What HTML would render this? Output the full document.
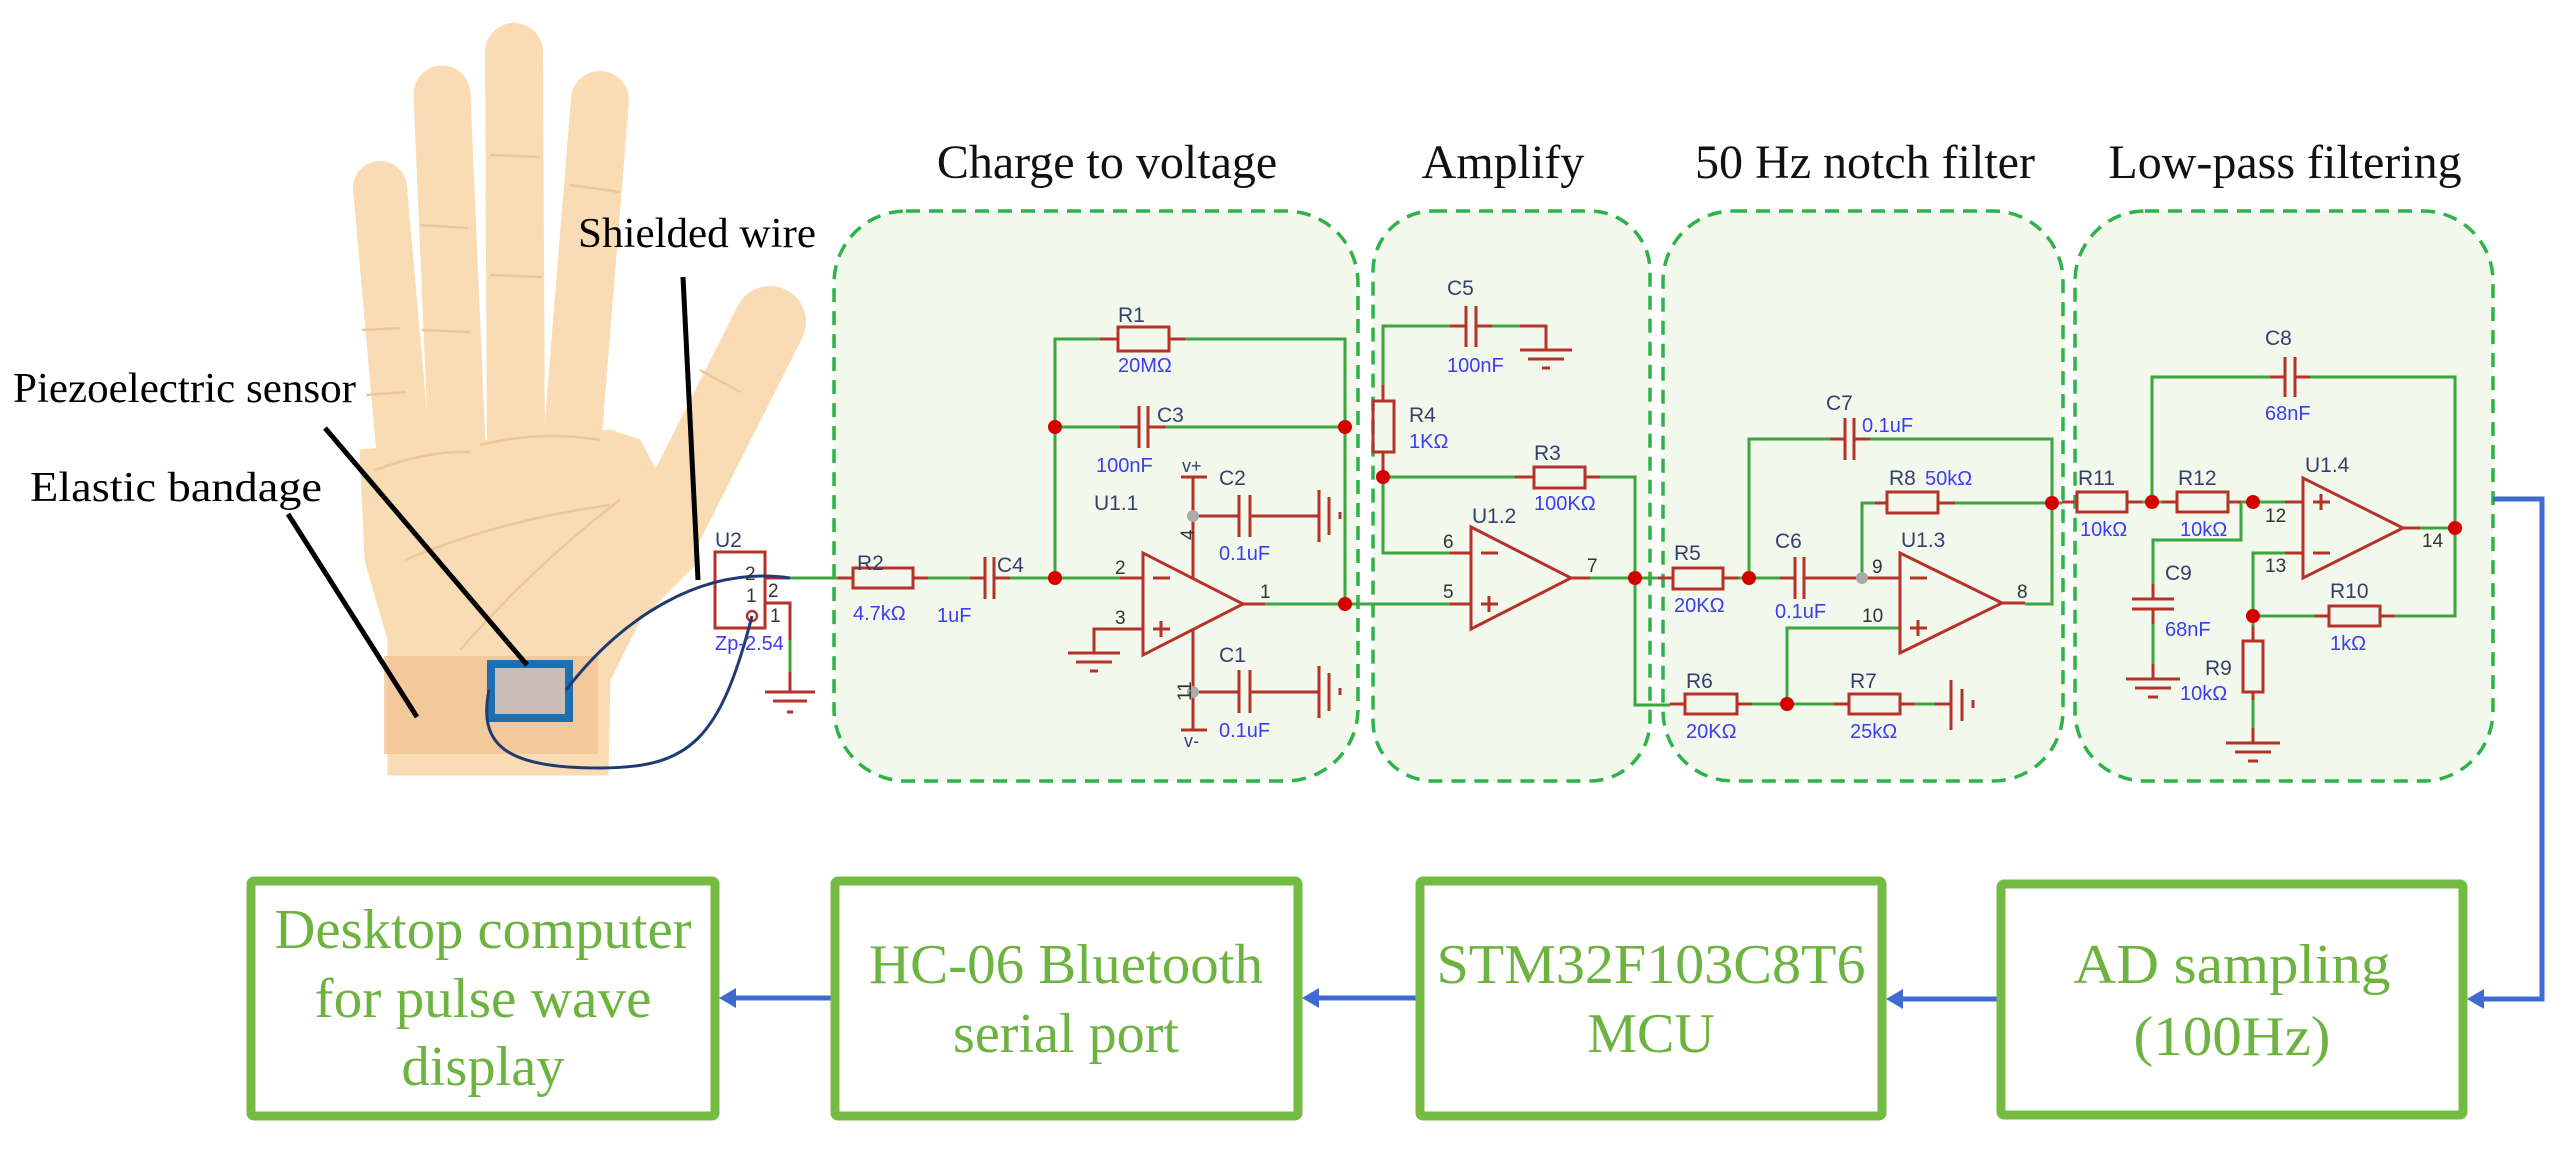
<!DOCTYPE html>
<html><head><meta charset="utf-8"><style>html,body{margin:0;padding:0;background:#fff}svg{display:block}</style></head>
<body>
<svg width="2572" height="1149" viewBox="0 0 2572 1149" xmlns="http://www.w3.org/2000/svg">
<rect width="2572" height="1149" fill="#fff"/>
<!-- HAND -->
<g fill="#F9DCB4" stroke="#F9DCB4">
<line x1="380" y1="188" x2="405" y2="470" stroke-width="54" stroke-linecap="round"/>
<line x1="442" y1="94" x2="458" y2="470" stroke-width="57" stroke-linecap="round"/>
<line x1="514" y1="52" x2="516" y2="462" stroke-width="58" stroke-linecap="round"/>
<line x1="600" y1="100" x2="572" y2="445" stroke-width="58" stroke-linecap="round"/>
<line x1="770" y1="322" x2="660" y2="540" stroke-width="72" stroke-linecap="round"/>
<polygon stroke-width="1" points="360,450 610,430 640,440 660,478 700,560 640,620 610,680 608,775 388,775 388,640 365,560"/>
</g>
<g fill="none" stroke="#EBC79D" stroke-width="2.5">
<path d="M375 470 Q430 450 470 452"/><path d="M480 445 Q540 430 600 440"/>
<path d="M405 560 Q500 520 610 505"/><path d="M460 650 Q540 560 620 500"/>
<line x1="362" y1="330" x2="400" y2="328"/><line x1="366" y1="395" x2="406" y2="392"/>
<line x1="420" y1="225" x2="468" y2="228"/><line x1="422" y1="330" x2="470" y2="332"/>
<line x1="490" y1="155" x2="540" y2="157"/><line x1="490" y1="275" x2="542" y2="277"/>
<line x1="570" y1="185" x2="620" y2="192"/><line x1="700" y1="370" x2="740" y2="392"/>
</g>
<rect x="384" y="656" width="214" height="98" fill="#F0C291" opacity="0.75"/>
<rect x="491" y="664" width="78" height="54" fill="#C9BDB5" stroke="#1D6FB0" stroke-width="8"/>
<g stroke="#000" stroke-width="5">
<line x1="683" y1="277" x2="698" y2="580"/>
<line x1="325" y1="428" x2="527" y2="665"/>
<line x1="288" y1="514" x2="417" y2="717"/>
</g>
<g font-family="Liberation Serif, serif" font-size="42" fill="#000">
<text x="578" y="247" textLength="238" lengthAdjust="spacingAndGlyphs">Shielded wire</text>
<text x="13" y="402" textLength="343" lengthAdjust="spacingAndGlyphs">Piezoelectric sensor</text>
<text x="30" y="501" textLength="292" lengthAdjust="spacingAndGlyphs">Elastic bandage</text>
</g>
<g font-family="Liberation Serif, serif" font-size="48" fill="#111" text-anchor="middle">
<text x="1107" y="178">Charge to voltage</text>
<text x="1503" y="178">Amplify</text>
<text x="1865" y="178">50 Hz notch filter</text>
<text x="2285" y="178">Low-pass filtering</text>
</g>
<g fill="#F2F8EC" stroke="#2DB34A" stroke-width="3.5" stroke-dasharray="14 9">
<rect x="834" y="211" width="524" height="570" rx="72"/>
<rect x="1373" y="211" width="277" height="570" rx="60"/>
<rect x="1663" y="211" width="400" height="570" rx="70"/>
<rect x="2075" y="211" width="418" height="570" rx="70"/>
</g>

<g fill="none" stroke="#B5322A" stroke-width="3">
<rect x="715" y="552" width="50" height="76"/>
<line x1="765" y1="578" x2="790" y2="578"/>
<polyline points="765,603 790,603 790,640"/>
<line x1="790" y1="672" x2="790" y2="692"/>
<line x1="765" y1="692" x2="815" y2="692"/><line x1="773" y1="701" x2="807" y2="701"/><line x1="787" y1="712" x2="793" y2="712"/>
<circle cx="752" cy="616" r="5" stroke-width="2.5"/>
</g>
<line x1="790" y1="640" x2="790" y2="672" stroke="#3DA53D" stroke-width="3"/>

<g fill="none" stroke="#3DA53D" stroke-width="3">
<line x1="790" y1="578" x2="838" y2="578"/>
<line x1="928" y1="578" x2="970" y2="578"/><line x1="1010" y1="578" x2="1120" y2="578"/>
<polyline points="1055,578 1055,339 1100,339"/><polyline points="1185,339 1345,339 1345,604"/>
<line x1="1055" y1="427" x2="1120" y2="427"/><line x1="1165" y1="427" x2="1345" y2="427"/>
<line x1="1265" y1="604" x2="1450" y2="604"/>
<polyline points="1383,385 1383,326 1450,326"/><line x1="1492" y1="326" x2="1520" y2="326"/>
<polyline points="1383,477 1383,553 1450,553"/>
<line x1="1383" y1="477" x2="1515" y2="477"/><polyline points="1600,477 1635,477 1635,705 1670,705"/>
<line x1="1590" y1="578" x2="1658" y2="578"/>
<line x1="1738" y1="578" x2="1780" y2="578"/>
<polyline points="1749,578 1749,439 1830,439"/><polyline points="1870,439 2052,439 2052,604 2025,604"/>
<polyline points="1862,578 1862,503 1875,503"/><line x1="1955" y1="503" x2="2062" y2="503"/>
<polyline points="1900,628 1787,628 1787,704"/>
<line x1="1752" y1="704" x2="1834" y2="704"/>
<line x1="1915" y1="704" x2="1935" y2="704"/>
<line x1="2142" y1="502" x2="2162" y2="502"/>
<polyline points="2152,502 2152,377 2270,377"/><polyline points="2310,377 2455,377 2455,616 2395,616"/>
<polyline points="2241,502 2241,540 2153,540 2153,584"/><line x1="2153" y1="624" x2="2153" y2="664"/>
<line x1="2241" y1="502" x2="2285" y2="502"/>
<polyline points="2285,553 2253,553 2253,626"/>
<line x1="2253" y1="616" x2="2315" y2="616"/>
<line x1="2253" y1="700" x2="2253" y2="728"/>
<line x1="2420" y1="528" x2="2455" y2="528"/>
</g>

<g fill="none" stroke="#B5322A" stroke-width="3">
<line x1="838" y1="578" x2="853" y2="578"/><rect x="853" y="568" width="60" height="20"/><line x1="913" y1="578" x2="928" y2="578"/>
<line x1="970" y1="578" x2="985" y2="578"/><line x1="985" y1="557" x2="985" y2="599"/><line x1="994" y1="557" x2="994" y2="599"/><line x1="994" y1="578" x2="1010" y2="578"/>
<line x1="1120" y1="578" x2="1143" y2="578"/>
<line x1="1100" y1="339" x2="1118" y2="339"/><rect x="1118" y="327" width="51" height="24"/><line x1="1169" y1="339" x2="1185" y2="339"/>
<line x1="1120" y1="427" x2="1139" y2="427"/><line x1="1139" y1="406" x2="1139" y2="448"/><line x1="1148" y1="406" x2="1148" y2="448"/><line x1="1148" y1="427" x2="1165" y2="427"/>
<polygon points="1143,553 1143,655 1243,604"/>
<line x1="1153" y1="578" x2="1170" y2="578"/><line x1="1153" y1="629" x2="1170" y2="629"/><line x1="1161" y1="621" x2="1161" y2="637"/>
<polyline points="1143,629 1094,629 1094,653"/>
<line x1="1068" y1="653" x2="1120" y2="653"/><line x1="1076" y1="662" x2="1112" y2="662"/><line x1="1090" y1="671" x2="1098" y2="671"/>
<line x1="1243" y1="604" x2="1265" y2="604"/>
<line x1="1193" y1="477" x2="1193" y2="579"/><line x1="1181" y1="477" x2="1207" y2="477"/>
<line x1="1193" y1="629" x2="1193" y2="730"/><line x1="1181" y1="730" x2="1207" y2="730"/>
<line x1="1193" y1="516" x2="1239" y2="516"/><line x1="1239" y1="495" x2="1239" y2="537"/><line x1="1250" y1="495" x2="1250" y2="537"/><line x1="1250" y1="516" x2="1319" y2="516"/>
<line x1="1319" y1="490" x2="1319" y2="542"/><line x1="1329" y1="497" x2="1329" y2="535"/><line x1="1340" y1="512" x2="1340" y2="519"/>
<line x1="1193" y1="692" x2="1239" y2="692"/><line x1="1239" y1="670" x2="1239" y2="713"/><line x1="1250" y1="670" x2="1250" y2="713"/><line x1="1250" y1="692" x2="1319" y2="692"/>
<line x1="1319" y1="666" x2="1319" y2="718"/><line x1="1329" y1="673" x2="1329" y2="711"/><line x1="1340" y1="688" x2="1340" y2="695"/>
<line x1="1450" y1="326" x2="1466" y2="326"/><line x1="1466" y1="306" x2="1466" y2="347"/><line x1="1476" y1="306" x2="1476" y2="347"/><line x1="1476" y1="326" x2="1492" y2="326"/>
<polyline points="1520,326 1546,326 1546,350"/>
<line x1="1520" y1="350" x2="1572" y2="350"/><line x1="1528" y1="359" x2="1564" y2="359"/><line x1="1542" y1="368" x2="1550" y2="368"/>
<line x1="1383" y1="385" x2="1383" y2="401"/><rect x="1373" y="401" width="21" height="51"/><line x1="1383" y1="452" x2="1383" y2="477"/>
<line x1="1515" y1="477" x2="1534" y2="477"/><rect x="1534" y="467" width="51" height="21"/><line x1="1585" y1="477" x2="1600" y2="477"/>
<polygon points="1471,527 1471,629 1571,578"/>
<line x1="1450" y1="553" x2="1471" y2="553"/><line x1="1450" y1="604" x2="1471" y2="604"/>
<line x1="1481" y1="553" x2="1498" y2="553"/><line x1="1481" y1="604" x2="1498" y2="604"/><line x1="1489" y1="596" x2="1489" y2="612"/>
<line x1="1571" y1="578" x2="1590" y2="578"/>
<line x1="1658" y1="578" x2="1673" y2="578"/><rect x="1673" y="568" width="50" height="21"/><line x1="1723" y1="578" x2="1738" y2="578"/>
<line x1="1780" y1="578" x2="1795" y2="578"/><line x1="1795" y1="557" x2="1795" y2="599"/><line x1="1804" y1="557" x2="1804" y2="599"/><line x1="1804" y1="578" x2="1900" y2="578"/>
<line x1="1830" y1="439" x2="1845" y2="439"/><line x1="1845" y1="418" x2="1845" y2="460"/><line x1="1854" y1="418" x2="1854" y2="460"/><line x1="1854" y1="439" x2="1870" y2="439"/>
<line x1="1875" y1="503" x2="1887" y2="503"/><rect x="1887" y="492" width="51" height="21"/><line x1="1938" y1="503" x2="1955" y2="503"/>
<polygon points="1900,553 1900,653 2002,603"/>
<line x1="1910" y1="578" x2="1927" y2="578"/><line x1="1910" y1="628" x2="1927" y2="628"/><line x1="1918" y1="620" x2="1918" y2="636"/>
<line x1="2002" y1="603" x2="2025" y2="603"/>
<line x1="1670" y1="704" x2="1685" y2="704"/><rect x="1685" y="694" width="52" height="20"/><line x1="1737" y1="704" x2="1752" y2="704"/>
<line x1="1834" y1="704" x2="1849" y2="704"/><rect x="1849" y="694" width="51" height="20"/><line x1="1900" y1="704" x2="1915" y2="704"/>
<line x1="1935" y1="704" x2="1951" y2="704"/>
<line x1="1951" y1="680" x2="1951" y2="730"/><line x1="1962" y1="689" x2="1962" y2="721"/><line x1="1973" y1="700" x2="1973" y2="708"/>
<line x1="2062" y1="502" x2="2077" y2="502"/><rect x="2077" y="492" width="50" height="20"/><line x1="2127" y1="502" x2="2142" y2="502"/>
<line x1="2162" y1="502" x2="2177" y2="502"/><rect x="2177" y="492" width="51" height="20"/><line x1="2228" y1="502" x2="2241" y2="502"/>
<line x1="2285" y1="502" x2="2303" y2="502"/>
<line x1="2270" y1="377" x2="2285" y2="377"/><line x1="2285" y1="357" x2="2285" y2="397"/><line x1="2295" y1="357" x2="2295" y2="397"/><line x1="2295" y1="377" x2="2310" y2="377"/>
<line x1="2153" y1="584" x2="2153" y2="599"/><line x1="2132" y1="599" x2="2174" y2="599"/><line x1="2132" y1="609" x2="2174" y2="609"/><line x1="2153" y1="609" x2="2153" y2="624"/>
<line x1="2153" y1="664" x2="2153" y2="679"/>
<line x1="2126" y1="679" x2="2180" y2="679"/><line x1="2135" y1="688" x2="2171" y2="688"/><line x1="2148" y1="697" x2="2158" y2="697"/>
<polygon points="2303,478 2303,578 2403,528"/>
<line x1="2313" y1="502" x2="2330" y2="502"/><line x1="2321" y1="494" x2="2321" y2="510"/><line x1="2313" y1="553" x2="2330" y2="553"/>
<line x1="2285" y1="553" x2="2303" y2="553"/>
<line x1="2403" y1="528" x2="2420" y2="528"/>
<line x1="2315" y1="616" x2="2329" y2="616"/><rect x="2329" y="606" width="51" height="20"/><line x1="2380" y1="616" x2="2395" y2="616"/>
<line x1="2253" y1="626" x2="2253" y2="641"/><rect x="2243" y="641" width="20" height="51"/><line x1="2253" y1="692" x2="2253" y2="700"/>
<line x1="2253" y1="728" x2="2253" y2="743"/>
<line x1="2226" y1="743" x2="2280" y2="743"/><line x1="2235" y1="752" x2="2271" y2="752"/><line x1="2248" y1="761" x2="2258" y2="761"/>
</g>

<g fill="#D40000">
<circle cx="1055" cy="578" r="7"/><circle cx="1055" cy="427" r="7"/><circle cx="1345" cy="427" r="7"/><circle cx="1345" cy="604" r="7"/>
<circle cx="1383" cy="477" r="7"/><circle cx="1635" cy="578" r="7"/><circle cx="1749" cy="578" r="7"/><circle cx="2052" cy="503" r="7"/>
<circle cx="1787" cy="704" r="7"/><circle cx="2152" cy="502" r="7"/><circle cx="2253" cy="502" r="7"/><circle cx="2455" cy="528" r="7"/><circle cx="2253" cy="616" r="7"/>
</g>
<g fill="#AAAAAA"><circle cx="1193" cy="516" r="6"/><circle cx="1193" cy="692" r="6"/><circle cx="1862" cy="578" r="6"/></g>

<g fill="none" stroke="#1F3B73" stroke-width="3">
<path d="M566 690 C620 620 700 565 790 578"/>
<path d="M489 690 C478 745 505 768 600 768 C690 768 720 740 752 616"/>
</g>

<g font-family="Liberation Sans, sans-serif" font-size="21" fill="#34406A">
<text x="715" y="547">U2</text>
<text x="857" y="570">R2</text><text x="997" y="572">C4</text>
<text x="1118" y="322">R1</text><text x="1157" y="422">C3</text>
<text x="1094" y="510">U1.1</text><text x="1219" y="485">C2</text><text x="1219" y="662">C1</text>
<text x="1182" y="472" font-size="18">v+</text><text x="1184" y="747" font-size="18">v-</text>
<text x="1447" y="295">C5</text><text x="1409" y="422">R4</text><text x="1534" y="460">R3</text><text x="1472" y="523">U1.2</text>
<text x="1674" y="560">R5</text><text x="1775" y="548">C6</text><text x="1826" y="410">C7</text><text x="1889" y="485">R8</text><text x="1901" y="547">U1.3</text>
<text x="1686" y="688">R6</text><text x="1850" y="688">R7</text>
<text x="2078" y="485">R11</text><text x="2178" y="485">R12</text><text x="2265" y="345">C8</text><text x="2305" y="472">U1.4</text>
<text x="2165" y="580">C9</text><text x="2330" y="598">R10</text><text x="2205" y="675">R9</text>
</g>
<g font-family="Liberation Sans, sans-serif" font-size="20" fill="#3C3CF0">
<text x="715" y="650">Zp-2.54</text>
<text x="853" y="620">4.7kΩ</text><text x="937" y="622">1uF</text>
<text x="1118" y="372">20MΩ</text><text x="1096" y="472">100nF</text>
<text x="1219" y="560">0.1uF</text><text x="1219" y="737">0.1uF</text>
<text x="1447" y="372">100nF</text><text x="1409" y="448">1KΩ</text><text x="1534" y="510">100KΩ</text>
<text x="1674" y="612">20KΩ</text><text x="1775" y="618">0.1uF</text><text x="1862" y="432">0.1uF</text><text x="1925" y="485">50kΩ</text>
<text x="1686" y="738">20KΩ</text><text x="1850" y="738">25kΩ</text>
<text x="2080" y="536">10kΩ</text><text x="2180" y="536">10kΩ</text><text x="2265" y="420">68nF</text>
<text x="2165" y="636">68nF</text><text x="2330" y="650">1kΩ</text><text x="2180" y="700">10kΩ</text>
</g>
<g font-family="Liberation Sans, sans-serif" font-size="19" fill="#333">
<text x="745" y="580">2</text><text x="746" y="602">1</text><text x="768" y="597">2</text><text x="770" y="622">1</text>
<text x="1115" y="574">2</text><text x="1115" y="624">3</text><text x="1260" y="598">1</text>
<text x="1186" y="548" transform="rotate(-90 1186 540)">4</text><text x="1180" y="700" transform="rotate(-90 1186 695)">11</text>
<text x="1443" y="548">6</text><text x="1443" y="598">5</text><text x="1587" y="572">7</text>
<text x="1872" y="573">9</text><text x="1862" y="622">10</text><text x="2017" y="598">8</text>
<text x="2265" y="522">12</text><text x="2265" y="572">13</text><text x="2422" y="547">14</text>
</g>

<g fill="none" stroke="#3F6BD0" stroke-width="5">
<polyline points="2493,499 2542,499 2542,999 2480,999"/>
<line x1="1997" y1="999" x2="1899" y2="999"/>
<line x1="1416" y1="998" x2="1315" y2="998"/>
<line x1="831" y1="998" x2="732" y2="998"/>
</g>
<g fill="#3F6BD0">
<polygon points="2467,999 2484,989 2484,1009"/>
<polygon points="1886,999 1903,989 1903,1009"/>
<polygon points="1302,998 1319,988 1319,1008"/>
<polygon points="719,998 736,988 736,1008"/>
</g>

<g fill="#fff" stroke="#74BB44" stroke-width="9">
<rect x="251" y="881" width="464" height="235" rx="3"/>
<rect x="835" y="881" width="463" height="235" rx="3"/>
<rect x="1420" y="881" width="462" height="235" rx="3"/>
<rect x="2001" y="884" width="462" height="231" rx="3"/>
</g>
<g font-family="Liberation Serif, serif" font-size="56" fill="#6DB33F" text-anchor="middle">
<text x="483" y="948" textLength="417" lengthAdjust="spacingAndGlyphs">Desktop computer</text>
<text x="483" y="1017" textLength="337" lengthAdjust="spacingAndGlyphs">for pulse wave</text>
<text x="483" y="1085" textLength="163" lengthAdjust="spacingAndGlyphs">display</text>
<text x="1066" y="983" textLength="394" lengthAdjust="spacingAndGlyphs">HC-06 Bluetooth</text>
<text x="1066" y="1052" textLength="226" lengthAdjust="spacingAndGlyphs">serial port</text>
<text x="1651" y="983" textLength="429" lengthAdjust="spacingAndGlyphs">STM32F103C8T6</text>
<text x="1651" y="1052">MCU</text>
<text x="2232" y="983" textLength="317" lengthAdjust="spacingAndGlyphs">AD sampling</text>
<text x="2232" y="1055" textLength="197" lengthAdjust="spacingAndGlyphs">(100Hz)</text>
</g>
</svg>
</body></html>
